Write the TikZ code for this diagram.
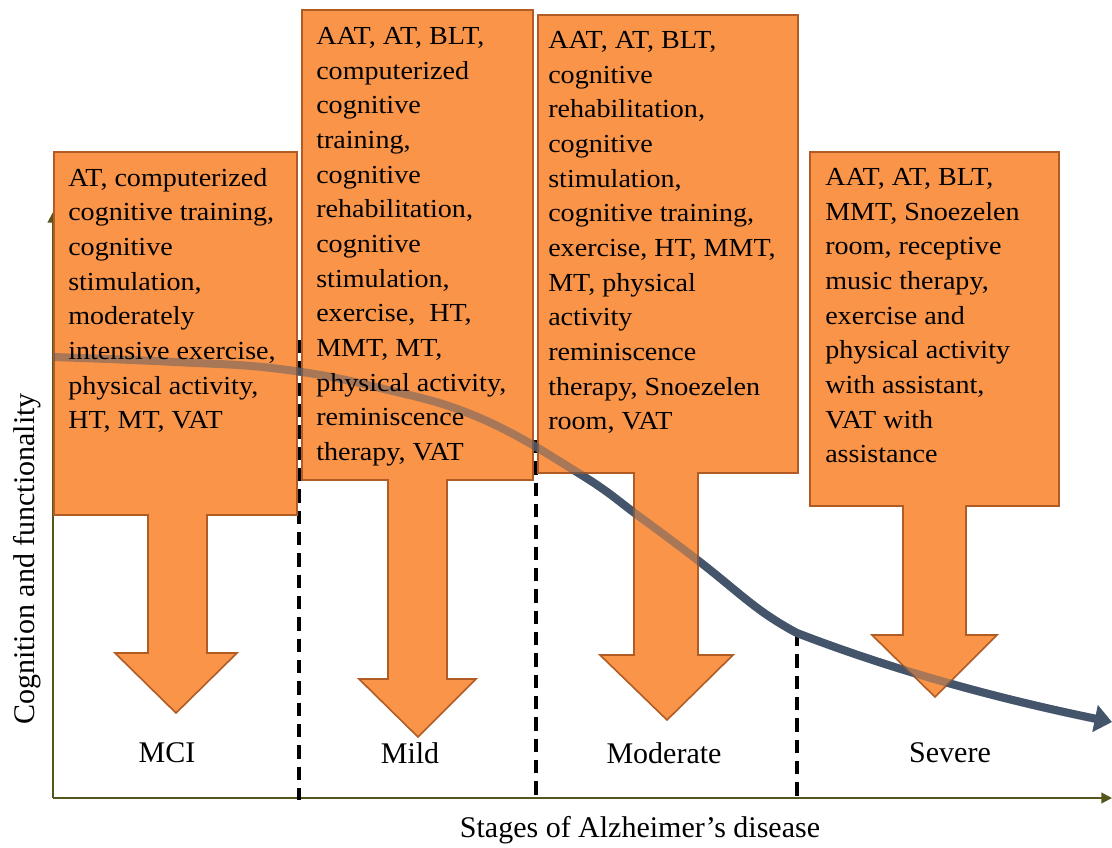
\documentclass[tikz,border=0pt]{standalone}
\usepackage{fontspec}
\setmainfont{Liberation Serif}
\newfontfamily\boxfont[FakeStretch=1.08]{Liberation Serif}
\usetikzlibrary{arrows.meta}

\definecolor{boxorange}{RGB}{249,148,72}
\definecolor{boxedge}{RGB}{176,92,36}
\definecolor{curveblue}{RGB}{68,84,106}
\definecolor{axisolive}{RGB}{86,86,28}

\begin{document}
\begin{tikzpicture}[x=0.75pt, y=-0.75pt,
    arrowbox/.style={fill=boxorange, draw=boxedge, line width=1.2pt, line join=miter},
    boxtext/.style={anchor=north west, inner sep=0pt, align=left, font=\boxfont\fontsize{19.5}{26}\selectfont},
    stagelabel/.style={font=\fontsize{22.5}{27}\selectfont},
    divider/.style={black, line width=3pt, dash pattern=on 10pt off 6pt},
    axis/.style={axisolive, line width=1.5pt, -{Triangle[length=8pt,width=8pt]}},
    decline/.style={curveblue, line width=6pt, line join=round}]

    \useasboundingbox (0,0) rectangle (1112,847);

    % axes
    \coordinate (origin) at (53,798);
    \coordinate (ytop) at (53,212);
    \coordinate (xend) at (1112,798);
    \draw[axis] (origin) -- (ytop);
    \draw[axis] (origin) -- (xend);

    % stage dividers, partly hidden by the boxes
    \coordinate (kink) at (797,633);
    \draw[divider] (299,340) -- (299,800);
    \draw[divider] (536,440) -- (536,800);
    \draw[divider] (kink) -- (797,800);

    % decline curve, drawn under the boxes
    \draw[decline, -{Triangle[length=13pt,width=20pt]}] plot[smooth, tension=0.7] coordinates {(54,357) (175,362) (280,369) (380,388) (480,418) (580,474) (640,517) (700,562) (760,610) (kink)}
        .. controls (880,665) and (980,695) .. (1112,722);

    % arrow boxes
    \filldraw[arrowbox] (54,152) -- (297,152) -- (297,515) -- (207,515) -- (207,653) -- (237,653) -- (176,713) -- (115,653) -- (148,653) -- (148,515) -- (54,515) -- cycle;
    \filldraw[arrowbox] (302,10) -- (533,10) -- (533,480) -- (447,480) -- (447,679) -- (476,679) -- (418,737) -- (359,679) -- (388,679) -- (388,480) -- (302,480) -- cycle;
    \filldraw[arrowbox] (538,15) -- (798,15) -- (798,473) -- (698,473) -- (698,655) -- (733,655) -- (667,720) -- (600,655) -- (634,655) -- (634,473) -- (538,473) -- cycle;
    \filldraw[arrowbox] (810,152) -- (1059,152) -- (1059,506) -- (966,506) -- (966,635) -- (997,635) -- (935,697) -- (872,635) -- (903,635) -- (903,506) -- (810,506) -- cycle;

    % curve seen through the boxes
    \draw[decline, opacity=0.45] plot[smooth, tension=0.7] coordinates {(54,357) (175,362) (280,369) (380,388) (480,418) (580,474) (640,517) (700,562) (760,610) (kink)}
        .. controls (880,665) and (980,695) .. (1100,720);

    % therapies per stage
    \node[boxtext] (mcitext) at (68,168) {AT, computerized\\cognitive training,\\cognitive\\stimulation,\\moderately\\intensive exercise,\\physical activity,\\HT, MT, VAT};
    \node[boxtext] (mildtext) at (316,27) {AAT, AT, BLT,\\computerized\\cognitive\\training,\\cognitive\\rehabilitation,\\cognitive\\stimulation,\\exercise,\ \ HT,\\MMT, MT,\\physical activity,\\reminiscence\\therapy, VAT};
    \node[boxtext] (modtext) at (548,31) {AAT, AT, BLT,\\cognitive\\rehabilitation,\\cognitive\\stimulation,\\cognitive training,\\exercise, HT, MMT,\\MT, physical\\activity\\reminiscence\\therapy, Snoezelen\\room, VAT};
    \node[boxtext] (sevtext) at (825,168) {AAT, AT, BLT,\\MMT, Snoezelen\\room, receptive\\music therapy,\\exercise and\\physical activity\\with assistant,\\VAT with\\assistance};

    % stage names
    \node[stagelabel] (mci) at (167,753) {MCI};
    \node[stagelabel] (mild) at (410,753) {Mild};
    \node[stagelabel] (moderate) at (664,753) {Moderate};
    \node[stagelabel] (severe) at (950,753) {Severe};

    % axis titles
    \node[stagelabel] (xtitle) at (640,830) {Stages of Alzheimer’s disease};
    \node[stagelabel, rotate=90] (ytitle) at (27,559) {Cognition and functionality};
\end{tikzpicture}
\end{document}
